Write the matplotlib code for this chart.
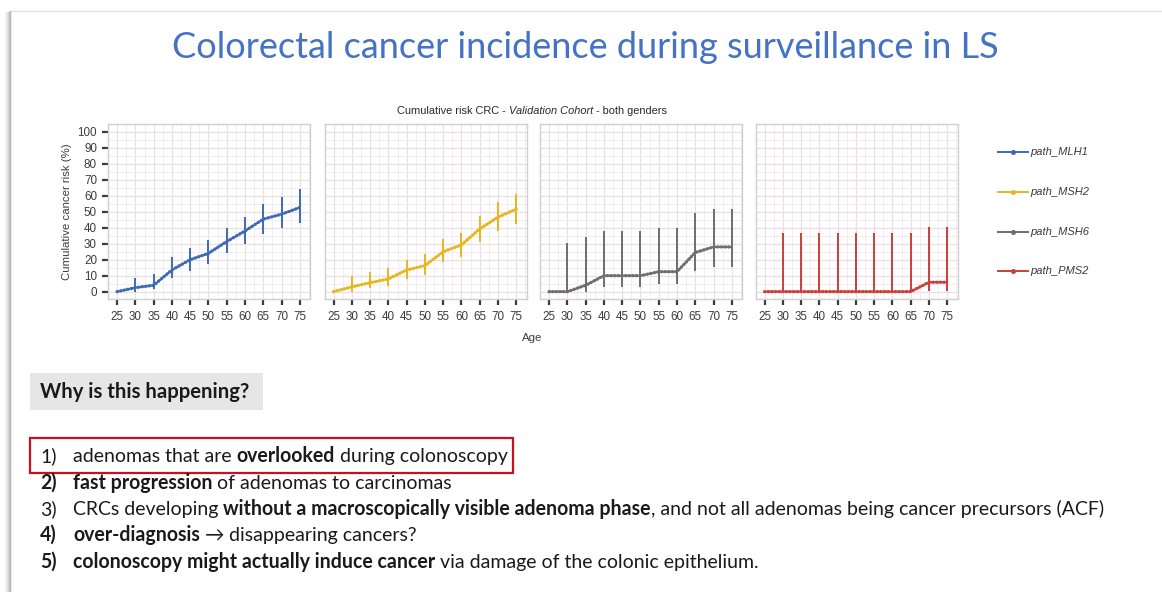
import matplotlib
matplotlib.use('Agg')
import matplotlib.pyplot as plt
from matplotlib.lines import Line2D
from matplotlib.patches import Rectangle

# ---------------- data ----------------
ages = [25, 30, 35, 40, 45, 50, 55, 60, 65, 70, 75]
genes = ['path_MLH1', 'path_MSH2', 'path_MSH6', 'path_PMS2']
gene_colors = ['#3d6bb3', '#e7b623', '#6e6e6e', '#c8413b']

mlh1_risk = [0, 2.5, 4, 13.6, 20, 24, 31.4, 38, 45.4, 48.5, 52.7]
mlh1_lo = [0, 0, 1.5, 8.4, 13, 17.4, 24, 30, 36, 40, 42.7]
mlh1_hi = [0, 8.8, 11, 21.5, 27.6, 32.4, 40, 47, 55, 59, 64]

msh2_risk = [0, 3, 5.6, 8, 13.6, 16.3, 25, 29.3, 39.3, 46.7, 51.7]
msh2_lo = [0, 0, 2, 3.8, 8, 10.5, 18.4, 22, 30.8, 38, 42.5]
msh2_hi = [0, 9.8, 12, 14.6, 20, 23.4, 33, 37, 47.5, 56, 61.3]

msh6_risk = [0, 0, 4, 10, 10, 10, 12.5, 12.5, 24.5, 28, 28]
msh6_lo = [0, 0, 0, 3, 3, 3, 5, 5, 13, 15.7, 15.7]
msh6_hi = [0, 30.3, 34, 38, 38, 38, 40, 40, 49, 51.7, 51.7]

pms2_risk = [0, 0, 0, 0, 0, 0, 0, 0, 0, 5.9, 5.9]
pms2_lo = [0, 0, 0, 0, 0, 0, 0, 0, 0, 0.5, 0.5]
pms2_hi = [0, 36.6, 36.6, 36.6, 36.6, 36.6, 36.6, 36.6, 36.6, 40.4, 40.4]

series = [
    (mlh1_risk, mlh1_lo, mlh1_hi),
    (msh2_risk, msh2_lo, msh2_hi),
    (msh6_risk, msh6_lo, msh6_hi),
    (pms2_risk, pms2_lo, pms2_hi),
]
y_ticks = [0, 10, 20, 30, 40, 50, 60, 70, 80, 90, 100]

slide_title = 'Colorectal cancer incidence during surveillance in LS'
chart_title_runs = [('Cumulative risk CRC - ', 'normal'), ('Validation Cohort', 'italic'),
                    (' - both genders', 'normal')]
x_label = 'Age'
y_label = 'Cumulative cancer risk (%)'
question = 'Why is this happening?'
items = [
    [('1)', 'normal'), ('adenomas that are ', 'normal'), ('overlooked', 'bold'), (' during colonoscopy', 'normal')],
    [('2)', 'bold'), ('fast progression', 'bold'), (' of adenomas to carcinomas', 'normal')],
    [('3)', 'normal'), ('CRCs developing ', 'normal'), ('without a macroscopically visible adenoma phase', 'bold'),
     (', and not all adenomas being cancer precursors (ACF)', 'normal')],
    [('4)', 'bold'), ('over-diagnosis', 'bold'), (' \u2192 ', 'normal'), ('disappearing cancers?', 'normal')],
    [('5)', 'bold'), ('colonoscopy might actually induce cancer', 'bold'), (' via damage of the colonic epithelium.', 'normal')],
]

# ---------------- figure ----------------
W, H = 1162, 592
fig = plt.figure(figsize=(W / 100, H / 100), dpi=100)
fig.patch.set_facecolor('white')


def fx(x):
    return x / W


def fy(y):
    return 1 - y / H


# slide frame with soft left shadow
for i, a in enumerate([0.04, 0.07, 0.10, 0.15, 0.22]):
    fig.add_artist(Line2D([fx(5 + i), fx(5 + i)], [fy(12), fy(H)], color='black', alpha=a, lw=0.8))
fig.add_artist(Line2D([fx(10), fx(W)], [fy(11), fy(11)], color='#e2e2e2', lw=1.0))
fig.add_artist(Line2D([fx(10), fx(10)], [fy(11), fy(H)], color='#b5b5b5', lw=1.0))

renderer = fig.canvas.get_renderer()


def draw_runs(x, y, runs, size, family, color, ha='left', va='baseline'):
    """Draw a sequence of styled text runs next to each other (pixel coords)."""
    texts = []
    for s, style in runs:
        kw = dict(fontsize=size, family=family, color=color, va=va)
        if style == 'bold':
            kw['fontweight'] = 'bold'
        elif style == 'italic':
            kw['fontstyle'] = 'italic'
        t = fig.text(0, fy(y), s, **kw)
        texts.append(t)
    widths = [t.get_window_extent(renderer).width for t in texts]
    total = sum(widths)
    cx = x - total / 2 if ha == 'center' else x
    for t, w in zip(texts, widths):
        t.set_x(fx(cx))
        cx += w
    return texts


body_font = ['Lato', 'DejaVu Sans']

# slide title
fig.text(fx(585), fy(48), slide_title, fontsize=26, family=body_font,
         fontweight='normal', color='#4472c4', ha='center', va='center')

# chart title
draw_runs(532, 114, chart_title_runs, 7.9, ['Liberation Sans'], '#2a2a2a', ha='center')

# panels
panel_left = [108, 324.5, 540, 755.5]
panel_w = 202
top, bottom = 124, 299
tick_fs = 8.4
for k, (risk, lo, hi) in enumerate(series):
    x0 = panel_left[k]
    ax = fig.add_axes([fx(x0), fy(bottom), panel_w / W, (bottom - top) / H])
    ax.set_xlim(22.6, 77.8)
    ax.set_ylim(-4.6, 105)
    ax.set_xticks(ages)
    ax.set_xticks([a + 2.5 for a in ages[:-1]] + [22.5001, 77.5], minor=True)
    ax.set_yticks(y_ticks)
    ax.set_yticks([v + 5 for v in y_ticks[:-1]], minor=True)
    ax.grid(which='major', color='#e9dfe1', lw=0.9)
    ax.grid(which='minor', color='#f1eaec', lw=0.6)
    ax.set_axisbelow(True)
    for sp in ax.spines.values():
        sp.set_color('#cfcfcf')
        sp.set_linewidth(1.0)
    ax.tick_params(which='minor', length=0)
    ax.tick_params(axis='x', which='major', length=4.5, width=1.6, color='#3a3a3a',
                   labelsize=tick_fs, labelcolor='#3c3c3c', pad=4)
    if k == 0:
        ax.tick_params(axis='y', which='major', length=4.5, width=1.6, color='#3a3a3a',
                       labelsize=tick_fs, labelcolor='#3c3c3c', pad=3.5)
        ax.set_ylabel(y_label, fontsize=8.2, color='#3c3c3c', family='Liberation Sans', labelpad=4)
    else:
        ax.tick_params(axis='y', which='major', length=0, labelleft=False)
    for lab in ax.get_xticklabels() + ax.get_yticklabels():
        lab.set_family('Liberation Sans')
    c = gene_colors[k]
    ax.vlines(ages, lo, hi, color=c, lw=1.4, zorder=3)
    ax.plot(ages, risk, color=c, lw=1.6, zorder=4, solid_capstyle='round')
    ax.plot(ages, risk, color=c, lw=2.4, ls=(0, (0.01, 1.08)), dash_capstyle='round', zorder=5)

# x label
fig.text(fx(532), fy(338), x_label, fontsize=8.2, color='#3c3c3c', family='Liberation Sans',
         ha='center', va='center')

# legend
leg_y = [152, 192, 232, 271]
for k, g in enumerate(genes):
    fig.add_artist(Line2D([fx(998), fx(1028)], [fy(leg_y[k]), fy(leg_y[k])], color=gene_colors[k], lw=1.4))
    fig.add_artist(Line2D([fx(1013)], [fy(leg_y[k])], color=gene_colors[k], marker='o', ms=2.6, lw=0))
    fig.text(fx(1030), fy(leg_y[k]), g, fontsize=8.0, fontstyle='italic', color='#3c3c3c',
             family='Liberation Sans', va='center')

# question box
fig.add_artist(Rectangle((fx(30), fy(410)), (263 - 30) / W, (410 - 373) / H, transform=fig.transFigure,
                         facecolor='#e7e6e6', edgecolor='none'))
fig.text(fx(40), fy(392), question, fontsize=14.6, fontweight='bold', family=body_font,
         color='#1a1a1a', va='center')

# red highlight box
fig.add_artist(Rectangle((fx(29.5), fy(472.5)), (513 - 29.5) / W, (472.5 - 437.5) / H, transform=fig.transFigure,
                         facecolor='none', edgecolor='#c8101e', lw=1.6))

# numbered items
body_fs = 14.05
baselines = [462, 489, 515, 541, 568]
for i, runs in enumerate(items):
    draw_runs(40, baselines[i], runs[:1], body_fs, body_font, '#1a1a1a')
    draw_runs(73, baselines[i], runs[1:], body_fs, body_font, '#1a1a1a')

fig.savefig('out.png', dpi=100, facecolor='white')
